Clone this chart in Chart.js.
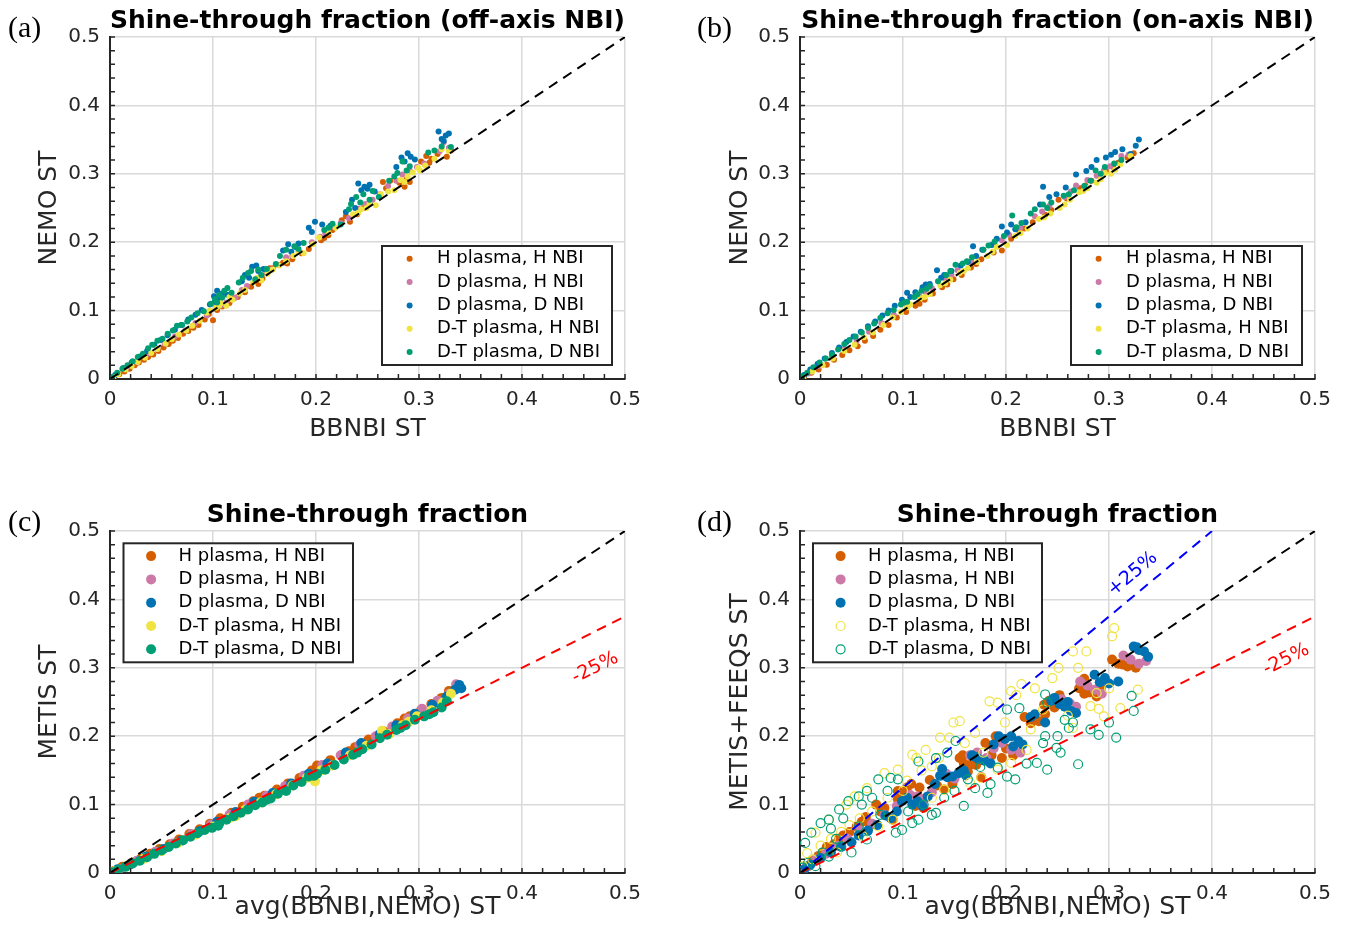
<!DOCTYPE html>
<html>
<head>
<meta charset="utf-8">
<title>Shine-through fraction</title>
<script src="https://cdn.jsdelivr.net/npm/chart.js@4.4.1/dist/chart.umd.min.js"></script>
<style>
  html, body { margin: 0; padding: 0; background: #fff; overflow: hidden; }
  .panel { position: absolute; }
</style>
</head>
<body>
<div class="panel" style="left:0;top:0"><canvas id="pa" width="674" height="494"></canvas></div>
<div class="panel" style="left:674px;top:0"><canvas id="pb" width="674" height="494"></canvas></div>
<div class="panel" style="left:0;top:494px"><canvas id="pc" width="674" height="444"></canvas></div>
<div class="panel" style="left:674px;top:494px"><canvas id="pd" width="674" height="444"></canvas></div>
<script>
Chart.defaults.font.family = '"DejaVu Sans", sans-serif';
Chart.defaults.color = '#262626';

const seriesNames = ['H plasma, H NBI', 'D plasma, H NBI', 'D plasma, D NBI', 'D-T plasma, H NBI', 'D-T plasma, D NBI'];
const seriesColors = ['#D55E00', '#CC79A7', '#0072B2', '#F0E442', '#009E73'];

// (a) BBNBI vs NEMO, off-axis NBI
const aH = [[0.004,0.003],[0.009,0.007],[0.014,0.011],[0.019,0.015],[0.024,0.02],[0.028,0.024],[0.033,0.028],[0.037,0.032],[0.042,0.036],[0.047,0.041],[0.052,0.046],[0.057,0.051],[0.061,0.056],[0.066,0.06],[0.071,0.066],[0.076,0.07],[0.081,0.075],[0.086,0.079],[0.092,0.087],[0.1,0.086],[0.104,0.101],[0.109,0.106],[0.116,0.111],[0.124,0.12],[0.131,0.127],[0.137,0.135],[0.144,0.139],[0.152,0.155],[0.158,0.162],[0.163,0.167],[0.168,0.17],[0.177,0.175],[0.186,0.184],[0.193,0.19],[0.208,0.206],[0.212,0.21],[0.216,0.218],[0.229,0.238],[0.233,0.23],[0.246,0.25],[0.265,0.288],[0.272,0.29],[0.281,0.287],[0.286,0.281],[0.288,0.292],[0.302,0.318],[0.307,0.326],[0.312,0.322],[0.318,0.329],[0.327,0.325],[0.331,0.334],
  [0.096,0.095],[0.12,0.118],[0.148,0.147],[0.155,0.162],[0.172,0.169],[0.205,0.203],[0.225,0.232],[0.24,0.241],[0.268,0.279],[0.291,0.288],[0.31,0.316]];
const aDH = [[0.007,0.007],[0.016,0.016],[0.026,0.025],[0.036,0.036],[0.046,0.044],[0.053,0.052],[0.063,0.062],[0.073,0.071],[0.083,0.082],[0.094,0.093],[0.103,0.106],[0.113,0.112],[0.122,0.119],[0.133,0.136],[0.146,0.15],[0.157,0.16],[0.171,0.178],[0.183,0.188],[0.196,0.2],[0.204,0.208],[0.218,0.222],[0.224,0.228],[0.241,0.249],[0.248,0.256],[0.262,0.27],[0.27,0.282],[0.284,0.299],[0.291,0.305],[0.298,0.31],[0.324,0.346],[0.329,0.338],
  [0.108,0.108],[0.128,0.13],[0.152,0.156],[0.177,0.18],[0.209,0.213],[0.232,0.235],[0.255,0.262],[0.278,0.29],[0.305,0.315],[0.32,0.333]];
const aDD = [[0.005,0.006],[0.013,0.016],[0.021,0.024],[0.029,0.033],[0.036,0.041],[0.043,0.05],[0.049,0.057],[0.056,0.064],[0.063,0.072],[0.069,0.079],[0.076,0.087],[0.083,0.094],[0.089,0.101],[0.097,0.109],[0.101,0.121],[0.104,0.129],[0.109,0.125],[0.114,0.123],[0.128,0.143],[0.138,0.164],[0.144,0.158],[0.149,0.161],[0.168,0.188],[0.173,0.197],[0.183,0.198],[0.193,0.221],[0.199,0.23],[0.206,0.226],[0.214,0.224],[0.229,0.244],[0.235,0.262],[0.241,0.286],[0.247,0.281],[0.252,0.284],[0.257,0.274],[0.278,0.31],[0.283,0.324],[0.289,0.33],[0.296,0.321],[0.319,0.362],[0.322,0.351],[0.326,0.356],[0.329,0.359],
  [0.102,0.113],[0.107,0.118],[0.131,0.152],[0.135,0.148],[0.142,0.166],[0.176,0.186],[0.18,0.193],[0.196,0.215],[0.238,0.25],[0.244,0.276],[0.25,0.278],[0.286,0.318],[0.292,0.325],[0.324,0.348]];
const aTH = [[0.003,0.003],[0.008,0.007],[0.015,0.014],[0.021,0.019],[0.027,0.025],[0.034,0.031],[0.04,0.038],[0.046,0.044],[0.054,0.052],[0.06,0.058],[0.067,0.065],[0.074,0.071],[0.08,0.078],[0.087,0.085],[0.094,0.097],[0.103,0.104],[0.108,0.111],[0.113,0.107],[0.119,0.116],[0.126,0.125],[0.139,0.141],[0.147,0.144],[0.153,0.154],[0.164,0.166],[0.178,0.18],[0.188,0.184],[0.197,0.197],[0.203,0.207],[0.219,0.221],[0.236,0.241],[0.241,0.243],[0.249,0.25],[0.258,0.254],[0.263,0.27],[0.276,0.276],[0.282,0.291],[0.289,0.296],[0.294,0.302],[0.299,0.309],[0.306,0.312],[0.322,0.336],[0.329,0.333],
  [0.097,0.1],[0.106,0.107],[0.116,0.12],[0.131,0.13],[0.143,0.148],[0.158,0.16],[0.171,0.172],[0.183,0.186],[0.212,0.214],[0.244,0.248],[0.252,0.256],[0.27,0.274],[0.286,0.288],[0.301,0.305],[0.315,0.322]];
const aTD = [[0.002,0.003],[0.007,0.009],[0.012,0.015],[0.017,0.02],[0.022,0.026],[0.027,0.032],[0.032,0.037],[0.037,0.045],[0.041,0.05],[0.046,0.056],[0.051,0.059],[0.056,0.066],[0.061,0.071],[0.065,0.078],[0.07,0.079],[0.075,0.084],[0.079,0.09],[0.085,0.096],[0.091,0.099],[0.098,0.11],[0.102,0.117],[0.106,0.123],[0.111,0.129],[0.118,0.126],[0.129,0.148],[0.134,0.155],[0.141,0.146],[0.147,0.152],[0.152,0.161],[0.161,0.168],[0.171,0.189],[0.179,0.194],[0.188,0.199],[0.208,0.218],[0.216,0.227],[0.224,0.226],[0.234,0.256],[0.239,0.266],[0.246,0.27],[0.252,0.262],[0.261,0.266],[0.271,0.29],[0.279,0.301],[0.284,0.318],[0.291,0.311],[0.309,0.331],[0.322,0.34],[0.331,0.339],
  [0.104,0.112],[0.109,0.119],[0.114,0.133],[0.125,0.141],[0.137,0.158],[0.144,0.16],[0.165,0.18],[0.183,0.19],[0.212,0.221],[0.232,0.248],[0.243,0.258],[0.255,0.275],[0.276,0.296],[0.288,0.305],[0.315,0.334]];

// (b) BBNBI vs NEMO, on-axis NBI
const bH = [[0.004,0.003],[0.011,0.009],[0.018,0.014],[0.026,0.021],[0.033,0.028],[0.041,0.035],[0.048,0.042],[0.056,0.048],[0.063,0.056],[0.071,0.063],[0.078,0.072],[0.086,0.079],[0.094,0.09],[0.103,0.098],[0.112,0.107],[0.121,0.116],[0.129,0.125],[0.138,0.134],[0.149,0.146],[0.157,0.152],[0.166,0.163],[0.176,0.175],[0.188,0.185],[0.196,0.188],[0.205,0.205],[0.213,0.216],[0.226,0.229],[0.238,0.24],[0.251,0.262],[0.259,0.264],[0.272,0.279],[0.283,0.29],[0.297,0.304],[0.309,0.316],[0.318,0.324],[0.324,0.33],
  [0.116,0.11],[0.143,0.138],[0.171,0.168],[0.218,0.22],[0.244,0.247],[0.277,0.283],[0.304,0.31]];
const bDH = [[0.008,0.008],[0.019,0.019],[0.031,0.031],[0.043,0.044],[0.055,0.056],[0.067,0.069],[0.079,0.082],[0.091,0.094],[0.104,0.108],[0.116,0.121],[0.128,0.133],[0.141,0.147],[0.153,0.159],[0.166,0.172],[0.178,0.189],[0.189,0.196],[0.203,0.211],[0.214,0.221],[0.228,0.238],[0.242,0.253],[0.257,0.266],[0.268,0.283],[0.279,0.291],[0.288,0.297],[0.301,0.311],[0.312,0.326],[0.319,0.328],
  [0.122,0.127],[0.147,0.152],[0.196,0.203],[0.235,0.245],[0.263,0.274],[0.295,0.305]];
const bDD = [[0.004,0.006],[0.01,0.014],[0.017,0.022],[0.024,0.03],[0.031,0.038],[0.038,0.046],[0.045,0.054],[0.052,0.062],[0.059,0.069],[0.066,0.077],[0.073,0.084],[0.08,0.093],[0.086,0.1],[0.092,0.107],[0.099,0.116],[0.104,0.126],[0.112,0.127],[0.119,0.134],[0.126,0.139],[0.133,0.159],[0.14,0.152],[0.147,0.158],[0.156,0.166],[0.163,0.171],[0.168,0.194],[0.177,0.189],[0.186,0.196],[0.196,0.223],[0.201,0.214],[0.209,0.219],[0.219,0.229],[0.236,0.281],[0.242,0.266],[0.249,0.27],[0.268,0.299],[0.278,0.304],[0.288,0.32],[0.297,0.324],[0.306,0.332],[0.313,0.336],[0.321,0.329],[0.326,0.341],[0.329,0.35],
  [0.107,0.12],[0.122,0.138],[0.137,0.148],[0.171,0.18],[0.191,0.205],[0.205,0.226],[0.233,0.255],[0.258,0.28],[0.283,0.31],[0.302,0.328]];
const bTH = [[0.003,0.003],[0.012,0.011],[0.022,0.02],[0.032,0.03],[0.043,0.041],[0.053,0.05],[0.062,0.061],[0.071,0.068],[0.081,0.079],[0.09,0.09],[0.098,0.098],[0.107,0.109],[0.117,0.118],[0.126,0.124],[0.136,0.137],[0.146,0.145],[0.155,0.155],[0.163,0.162],[0.172,0.171],[0.182,0.18],[0.191,0.193],[0.201,0.196],[0.209,0.209],[0.221,0.22],[0.232,0.234],[0.243,0.242],[0.252,0.25],[0.262,0.262],[0.271,0.273],[0.279,0.279],[0.288,0.287],[0.296,0.301],[0.302,0.3],[0.311,0.314],[0.321,0.326],
  [0.104,0.105],[0.121,0.12],[0.141,0.14],[0.159,0.158],[0.187,0.186],[0.214,0.213],[0.237,0.236],[0.257,0.255],[0.275,0.275],[0.292,0.292],[0.306,0.306]];
const bTD = [[0.002,0.004],[0.007,0.009],[0.013,0.017],[0.019,0.024],[0.025,0.03],[0.031,0.036],[0.037,0.043],[0.043,0.051],[0.048,0.057],[0.054,0.062],[0.06,0.068],[0.066,0.075],[0.072,0.081],[0.078,0.089],[0.085,0.096],[0.091,0.101],[0.098,0.109],[0.104,0.113],[0.111,0.12],[0.118,0.129],[0.126,0.136],[0.134,0.143],[0.142,0.152],[0.151,0.167],[0.158,0.169],[0.167,0.178],[0.178,0.189],[0.189,0.201],[0.198,0.209],[0.206,0.239],[0.215,0.228],[0.228,0.248],[0.236,0.255],[0.244,0.258],[0.256,0.268],[0.266,0.276],[0.276,0.282],[0.287,0.305],[0.296,0.31],[0.305,0.315],[0.312,0.32],
  [0.101,0.112],[0.114,0.124],[0.123,0.132],[0.146,0.158],[0.162,0.172],[0.183,0.195],[0.21,0.222],[0.224,0.242],[0.24,0.25],[0.261,0.27],[0.282,0.29],[0.292,0.3]];

// (c) avg(BBNBI,NEMO) vs METIS
const cH = [[0.004,0.003],[0.012,0.009],[0.021,0.015],[0.03,0.021],[0.039,0.028],[0.048,0.035],[0.058,0.042],[0.067,0.049],[0.077,0.057],[0.087,0.064],[0.097,0.072],[0.107,0.08],[0.118,0.088],[0.129,0.097],[0.139,0.105],[0.15,0.113],[0.162,0.122],[0.173,0.131],[0.184,0.139],[0.196,0.15],[0.201,0.157],[0.214,0.165],[0.226,0.173],[0.238,0.184],[0.251,0.195],[0.266,0.207],[0.279,0.219],[0.291,0.229],[0.302,0.238],[0.312,0.247],[0.322,0.256],[0.329,0.266],
  [0.145,0.11],[0.232,0.178],[0.286,0.226]];
const cDH = [[0.009,0.006],[0.026,0.018],[0.044,0.031],[0.061,0.043],[0.079,0.057],[0.098,0.071],[0.116,0.085],[0.134,0.1],[0.152,0.113],[0.17,0.127],[0.188,0.142],[0.206,0.158],[0.224,0.172],[0.242,0.187],[0.258,0.2],[0.274,0.214],[0.289,0.226],[0.303,0.24],[0.318,0.252],[0.329,0.262],[0.336,0.276]];
const cDD = [[0.007,0.005],[0.02,0.013],[0.035,0.024],[0.052,0.035],[0.069,0.047],[0.087,0.061],[0.104,0.075],[0.122,0.089],[0.14,0.104],[0.158,0.117],[0.176,0.131],[0.193,0.145],[0.211,0.16],[0.229,0.176],[0.244,0.19],[0.262,0.203],[0.278,0.216],[0.296,0.233],[0.313,0.246],[0.327,0.258],[0.335,0.268],[0.339,0.275],[0.341,0.27]];
const cTH = [[0.005,0.003],[0.017,0.011],[0.033,0.021],[0.05,0.032],[0.066,0.044],[0.083,0.056],[0.1,0.068],[0.116,0.08],[0.131,0.092],[0.146,0.103],[0.161,0.115],[0.177,0.128],[0.191,0.139],[0.199,0.134],[0.216,0.157],[0.233,0.172],[0.249,0.186],[0.264,0.208],[0.271,0.203],[0.284,0.216],[0.298,0.229],[0.312,0.238],[0.323,0.249],[0.331,0.262],
  [0.122,0.083],[0.205,0.15],[0.29,0.221]];
const cTD = [[0.002,0.001],[0.008,0.005],[0.015,0.009],[0.022,0.014],[0.029,0.018],[0.036,0.023],[0.043,0.028],[0.05,0.033],[0.057,0.038],[0.064,0.043],[0.071,0.048],[0.078,0.053],[0.085,0.058],[0.092,0.063],[0.099,0.066],[0.106,0.072],[0.113,0.078],[0.12,0.083],[0.127,0.088],[0.134,0.093],[0.141,0.099],[0.148,0.103],[0.156,0.109],[0.163,0.116],[0.171,0.12],[0.178,0.128],[0.186,0.133],[0.193,0.141],[0.201,0.145],[0.209,0.151],[0.218,0.158],[0.227,0.166],[0.236,0.173],[0.245,0.181],[0.254,0.188],[0.262,0.197],[0.269,0.202],[0.278,0.209],[0.287,0.216],[0.296,0.224],[0.305,0.229],[0.314,0.235],[0.322,0.242],[0.327,0.251],
  [0.105,0.069],[0.152,0.107],[0.198,0.142],[0.24,0.176],[0.282,0.212],[0.31,0.232]];

// (d) avg(BBNBI,NEMO) vs METIS+FEEQS
const dH = [[0.003,0.004],[0.008,0.01],[0.012,0.018],[0.018,0.025],[0.022,0.03],[0.026,0.038],[0.033,0.042],[0.038,0.05],[0.042,0.055],[0.048,0.06],[0.055,0.068],[0.06,0.075],[0.064,0.082],[0.068,0.07],[0.074,0.1],[0.078,0.09],[0.082,0.095],[0.09,0.078],[0.095,0.12],[0.1,0.115],[0.104,0.125],[0.112,0.098],[0.116,0.125],[0.12,0.095],[0.126,0.136],[0.133,0.128],[0.14,0.122],[0.148,0.13],[0.155,0.168],[0.159,0.16],[0.163,0.148],[0.171,0.158],[0.176,0.14],[0.18,0.19],[0.186,0.172],[0.19,0.2],[0.2,0.182],[0.207,0.172],[0.218,0.228],[0.224,0.219],[0.232,0.222],[0.237,0.246],[0.242,0.252],[0.252,0.26],[0.258,0.248],[0.264,0.238],[0.271,0.27],[0.276,0.284],[0.281,0.264],[0.288,0.258],[0.303,0.312],[0.309,0.306],[0.318,0.302],[0.326,0.3],
  [0.095,0.108],[0.108,0.13],[0.158,0.172],[0.165,0.158],[0.196,0.168],[0.238,0.232],[0.247,0.242],[0.276,0.262],[0.292,0.27],[0.313,0.305]];
const dDH = [[0.006,0.008],[0.015,0.02],[0.025,0.028],[0.036,0.04],[0.046,0.05],[0.058,0.062],[0.07,0.072],[0.082,0.085],[0.094,0.098],[0.107,0.114],[0.114,0.112],[0.121,0.109],[0.128,0.118],[0.142,0.145],[0.15,0.138],[0.165,0.172],[0.172,0.176],[0.181,0.168],[0.188,0.182],[0.196,0.19],[0.205,0.18],[0.214,0.176],[0.254,0.254],[0.262,0.248],[0.268,0.243],[0.272,0.28],[0.279,0.274],[0.286,0.268],[0.293,0.262],[0.314,0.318],[0.321,0.312],[0.329,0.306],[0.336,0.31]];
const dDD = [[0.004,0.005],[0.01,0.012],[0.02,0.022],[0.03,0.03],[0.04,0.038],[0.05,0.045],[0.057,0.055],[0.066,0.062],[0.075,0.07],[0.083,0.084],[0.088,0.08],[0.094,0.09],[0.104,0.11],[0.109,0.1],[0.114,0.105],[0.119,0.098],[0.131,0.13],[0.138,0.152],[0.143,0.14],[0.148,0.141],[0.154,0.146],[0.161,0.143],[0.167,0.172],[0.173,0.167],[0.179,0.164],[0.185,0.16],[0.193,0.2],[0.199,0.196],[0.205,0.2],[0.212,0.193],[0.216,0.188],[0.224,0.228],[0.238,0.22],[0.247,0.256],[0.252,0.247],[0.257,0.243],[0.263,0.237],[0.268,0.234],[0.286,0.29],[0.291,0.279],[0.3,0.277],[0.309,0.28],[0.324,0.331],[0.329,0.326],[0.334,0.324],[0.338,0.316],
  [0.099,0.105],[0.124,0.112],[0.136,0.142],[0.159,0.15],[0.17,0.17],[0.188,0.188],[0.207,0.185],[0.228,0.232],[0.244,0.252],[0.26,0.25],[0.296,0.285],[0.327,0.33]];
const dTH = [[0.003,0.01],[0.007,0.029],[0.012,0.02],[0.015,0.059],[0.02,0.04],[0.028,0.078],[0.03,0.05],[0.036,0.03],[0.045,0.1],[0.048,0.07],[0.053,0.112],[0.061,0.054],[0.065,0.124],[0.07,0.09],[0.076,0.068],[0.082,0.146],[0.09,0.078],[0.095,0.151],[0.1,0.12],[0.109,0.173],[0.113,0.168],[0.122,0.18],[0.128,0.11],[0.128,0.156],[0.136,0.198],[0.14,0.122],[0.145,0.198],[0.149,0.22],[0.155,0.222],[0.165,0.132],[0.176,0.139],[0.178,0.176],[0.184,0.251],[0.192,0.249],[0.192,0.151],[0.199,0.22],[0.205,0.266],[0.205,0.161],[0.215,0.276],[0.22,0.18],[0.224,0.21],[0.236,0.239],[0.251,0.3],[0.265,0.324],[0.265,0.212],[0.278,0.324],[0.282,0.244],[0.288,0.263],[0.295,0.229],[0.303,0.346],[0.305,0.358],[0.311,0.241],[0.328,0.268],
  [0.04,0.06],[0.058,0.08],[0.085,0.11],[0.104,0.135],[0.118,0.15],[0.135,0.168],[0.16,0.19],[0.17,0.205],[0.21,0.26],[0.228,0.27],[0.245,0.285],[0.27,0.3],[0.29,0.24],[0.3,0.27],[0.26,0.23]];
const dTD = [[0.002,0.008],[0.005,0.044],[0.008,0.015],[0.011,0.059],[0.015,0.01],[0.02,0.073],[0.022,0.03],[0.028,0.078],[0.028,0.024],[0.035,0.05],[0.038,0.093],[0.04,0.039],[0.047,0.105],[0.05,0.03],[0.057,0.112],[0.057,0.068],[0.065,0.12],[0.065,0.049],[0.076,0.137],[0.078,0.085],[0.088,0.139],[0.093,0.059],[0.095,0.137],[0.099,0.063],[0.109,0.073],[0.115,0.163],[0.115,0.078],[0.128,0.085],[0.132,0.088],[0.132,0.168],[0.143,0.176],[0.151,0.193],[0.159,0.098],[0.163,0.137],[0.17,0.124],[0.182,0.117],[0.192,0.154],[0.201,0.141],[0.201,0.239],[0.209,0.137],[0.213,0.241],[0.23,0.161],[0.236,0.19],[0.238,0.2],[0.238,0.261],[0.24,0.151],[0.24,0.249],[0.249,0.183],[0.253,0.176],[0.257,0.224],[0.261,0.212],[0.27,0.159],[0.282,0.21],[0.29,0.202],[0.307,0.198],[0.322,0.259],[0.324,0.237],
  [0.03,0.065],[0.042,0.08],[0.06,0.1],[0.07,0.11],[0.085,0.12],[0.105,0.09],[0.12,0.1],[0.14,0.11],[0.15,0.12],[0.175,0.155],[0.185,0.13],[0.22,0.16],[0.25,0.2],[0.265,0.22],[0.3,0.22]];

// reference lines: y = x, -25 %, +25 %
const diagLine = [[0, 0], [0.5, 0.5]];
const minus25Line = [[0, 0], [0.5, 0.375]];
const plus25Line = [[0, 0], [0.4, 0.5]];

const xy = arr => arr.map(p => ({ x: p[0], y: p[1] }));

function decorFor(c) {
  return {
    id: 'decor',
    afterDraw(chart) {
      const { ctx, chartArea: a, scales: { x, y } } = chart;
      ctx.save();

      // inward major + minor ticks, matlab style
      ctx.strokeStyle = '#262626';
      ctx.lineWidth = 1.5;
      ctx.beginPath();
      for (let i = 0; i <= 25; i++) {
        const px = x.getPixelForValue(i / 50);
        const py = y.getPixelForValue(i / 50);
        ctx.moveTo(px, a.bottom); ctx.lineTo(px, a.bottom - 5);
        ctx.moveTo(a.left, py); ctx.lineTo(a.left + 5, py);
      }
      ctx.stroke();

      // text along the +-25% lines
      c.notes.forEach(n => {
        const p0 = n.line[0], p1 = n.line[1];
        const ang = Math.atan2(y.getPixelForValue(p1[1]) - y.getPixelForValue(p0[1]),
                               x.getPixelForValue(p1[0]) - x.getPixelForValue(p0[0]));
        ctx.save();
        ctx.translate(x.getPixelForValue(n.at[0]), y.getPixelForValue(n.at[1]));
        ctx.rotate(ang);
        ctx.fillStyle = n.color;
        ctx.font = '19px "DejaVu Sans"';
        ctx.textAlign = 'center';
        ctx.textBaseline = 'middle';
        ctx.fillText(n.text, 0, 0);
        ctx.restore();
      });

      // legend box
      const L = a.left + c.legend.dx, T = a.top + c.legend.dy;
      ctx.fillStyle = '#fff';
      ctx.fillRect(L, T, c.legend.w, 119);
      ctx.strokeStyle = '#262626';
      ctx.lineWidth = 2;
      ctx.strokeRect(L, T, c.legend.w, 119);
      ctx.font = '18px "DejaVu Sans"';
      ctx.textAlign = 'left';
      ctx.textBaseline = 'middle';
      chart.data.datasets.filter(d => !d.showLine).forEach((d, i) => {
        const cy = T + 12.8 + i * 23.3;
        ctx.beginPath();
        ctx.arc(L + 27.6, cy, d.pointRadius, 0, Math.PI * 2);
        if (d.hollow) {
          ctx.strokeStyle = d.borderColor;
          ctx.lineWidth = 1.2;
          ctx.stroke();
        } else {
          ctx.fillStyle = d.backgroundColor;
          ctx.fill();
        }
        ctx.fillStyle = '#000';
        ctx.fillText(d.label, L + 55, cy);
      });

      // panel tag
      ctx.font = '30px "Liberation Serif"';
      ctx.fillStyle = '#000';
      ctx.textAlign = 'left';
      ctx.textBaseline = 'middle';
      ctx.fillText(c.tag, c.tagX, 29);
      ctx.restore();
    }
  };
}

function makePanel(id, c) {
  const datasets = c.series.map((s, i) => {
    const hollow = c.hollow && i > 2;
    return {
      label: seriesNames[i],
      data: xy(s),
      pointRadius: hollow ? c.radius - 0.5 : c.radius,
      pointBorderWidth: hollow ? 1.2 : 0,
      backgroundColor: hollow ? 'rgba(0,0,0,0)' : seriesColors[i],
      borderColor: seriesColors[i],
      hollow: hollow,
      order: 10 - i
    };
  });
  c.lines.forEach(l => datasets.push({
    data: xy(l.data),
    showLine: true,
    borderColor: l.color,
    borderWidth: 2,
    borderDash: [10, 7],
    pointRadius: 0,
    order: 0
  }));

  const tickFont = { size: 20 };
  const titleFont = { size: 25 };

  new Chart(document.getElementById(id), {
    type: 'scatter',
    data: { datasets: datasets },
    options: {
      responsive: false,
      animation: false,
      events: [],
      devicePixelRatio: 1,
      layout: { padding: { left: 0, right: c.padRight, top: 0, bottom: 0 } },
      plugins: {
        legend: { display: false },
        tooltip: { enabled: false },
        title: {
          display: true,
          text: c.title,
          fullSize: false,
          color: '#000',
          font: { size: 25, weight: 'bold' },
          padding: { top: 6, bottom: 1 }
        }
      },
      scales: {
        x: {
          type: 'linear', min: 0, max: 0.5,
          afterFit: s => { s.height = c.xAxisH; },
          ticks: { stepSize: 0.1, padding: 9, font: tickFont, color: '#262626',
                   callback: v => v === 0 ? '0' : (+v).toFixed(1) },
          grid: { color: '#d9d9d9', lineWidth: 1.5, drawTicks: false },
          border: { color: '#262626', width: 2 },
          title: { display: true, text: c.xTitle, font: titleFont, color: '#262626',
                   padding: { top: 0, bottom: c.xTitlePad } }
        },
        y: {
          type: 'linear', min: 0, max: 0.5,
          afterFit: s => { s.width = c.yAxisW; },
          ticks: { stepSize: 0.1, padding: 10, font: tickFont, color: '#262626',
                   callback: v => v === 0 ? '0' : (+v).toFixed(1) },
          grid: { color: '#d9d9d9', lineWidth: 1.5, drawTicks: false },
          border: { color: '#262626', width: 2 },
          title: { display: true, text: c.yTitle, font: titleFont, color: '#262626',
                   padding: { top: c.yTitlePad, bottom: 0 } }
        }
      }
    },
    plugins: [decorFor(c)]
  });
}

const leftCol = { padRight: 49, yAxisW: 110, yTitlePad: 34, tagX: 8 };
const rightCol = { padRight: 33, yAxisW: 126, yTitlePad: 51, tagX: 23 };
const topRow = { xAxisH: 115, xTitlePad: 50 };
const bottomRow = { xAxisH: 65, xTitlePad: 16 };

makePanel('pa', Object.assign({}, leftCol, topRow, {
  tag: '(a)', title: 'Shine-through fraction (off-axis NBI)',
  xTitle: 'BBNBI ST', yTitle: 'NEMO ST',
  series: [aH, aDH, aDD, aTH, aTD], radius: 3, hollow: false,
  lines: [{ data: diagLine, color: '#000' }], notes: [],
  legend: { dx: 272, dy: 209, w: 230 }
}));

makePanel('pb', Object.assign({}, rightCol, topRow, {
  tag: '(b)', title: 'Shine-through fraction (on-axis NBI)',
  xTitle: 'BBNBI ST', yTitle: 'NEMO ST',
  series: [bH, bDH, bDD, bTH, bTD], radius: 3, hollow: false,
  lines: [{ data: diagLine, color: '#000' }], notes: [],
  legend: { dx: 271, dy: 209, w: 231 }
}));

makePanel('pc', Object.assign({}, leftCol, bottomRow, {
  tag: '(c)', title: 'Shine-through fraction',
  xTitle: 'avg(BBNBI,NEMO) ST', yTitle: 'METIS ST',
  series: [cH, cDH, cDD, cTH, cTD], radius: 5, hollow: false,
  lines: [{ data: diagLine, color: '#000' }, { data: minus25Line, color: '#ff0000' }],
  notes: [{ text: '-25%', at: [0.471, 0.3], line: minus25Line, color: '#ff0000' }],
  legend: { dx: 13.5, dy: 12.3, w: 229.5 }
}));

makePanel('pd', Object.assign({}, rightCol, bottomRow, {
  tag: '(d)', title: 'Shine-through fraction',
  xTitle: 'avg(BBNBI,NEMO) ST', yTitle: 'METIS+FEEQS ST',
  series: [dH, dDH, dDD, dTH, dTD], radius: 5, hollow: true,
  lines: [{ data: diagLine, color: '#000' }, { data: minus25Line, color: '#ff0000' }, { data: plus25Line, color: '#0000ff' }],
  notes: [{ text: '-25%', at: [0.472, 0.312], line: minus25Line, color: '#ff0000' },
          { text: '+25%', at: [0.323, 0.437], line: plus25Line, color: '#0000ff' }],
  legend: { dx: 13, dy: 12.3, w: 229 }
}));
</script>
</body>
</html>
